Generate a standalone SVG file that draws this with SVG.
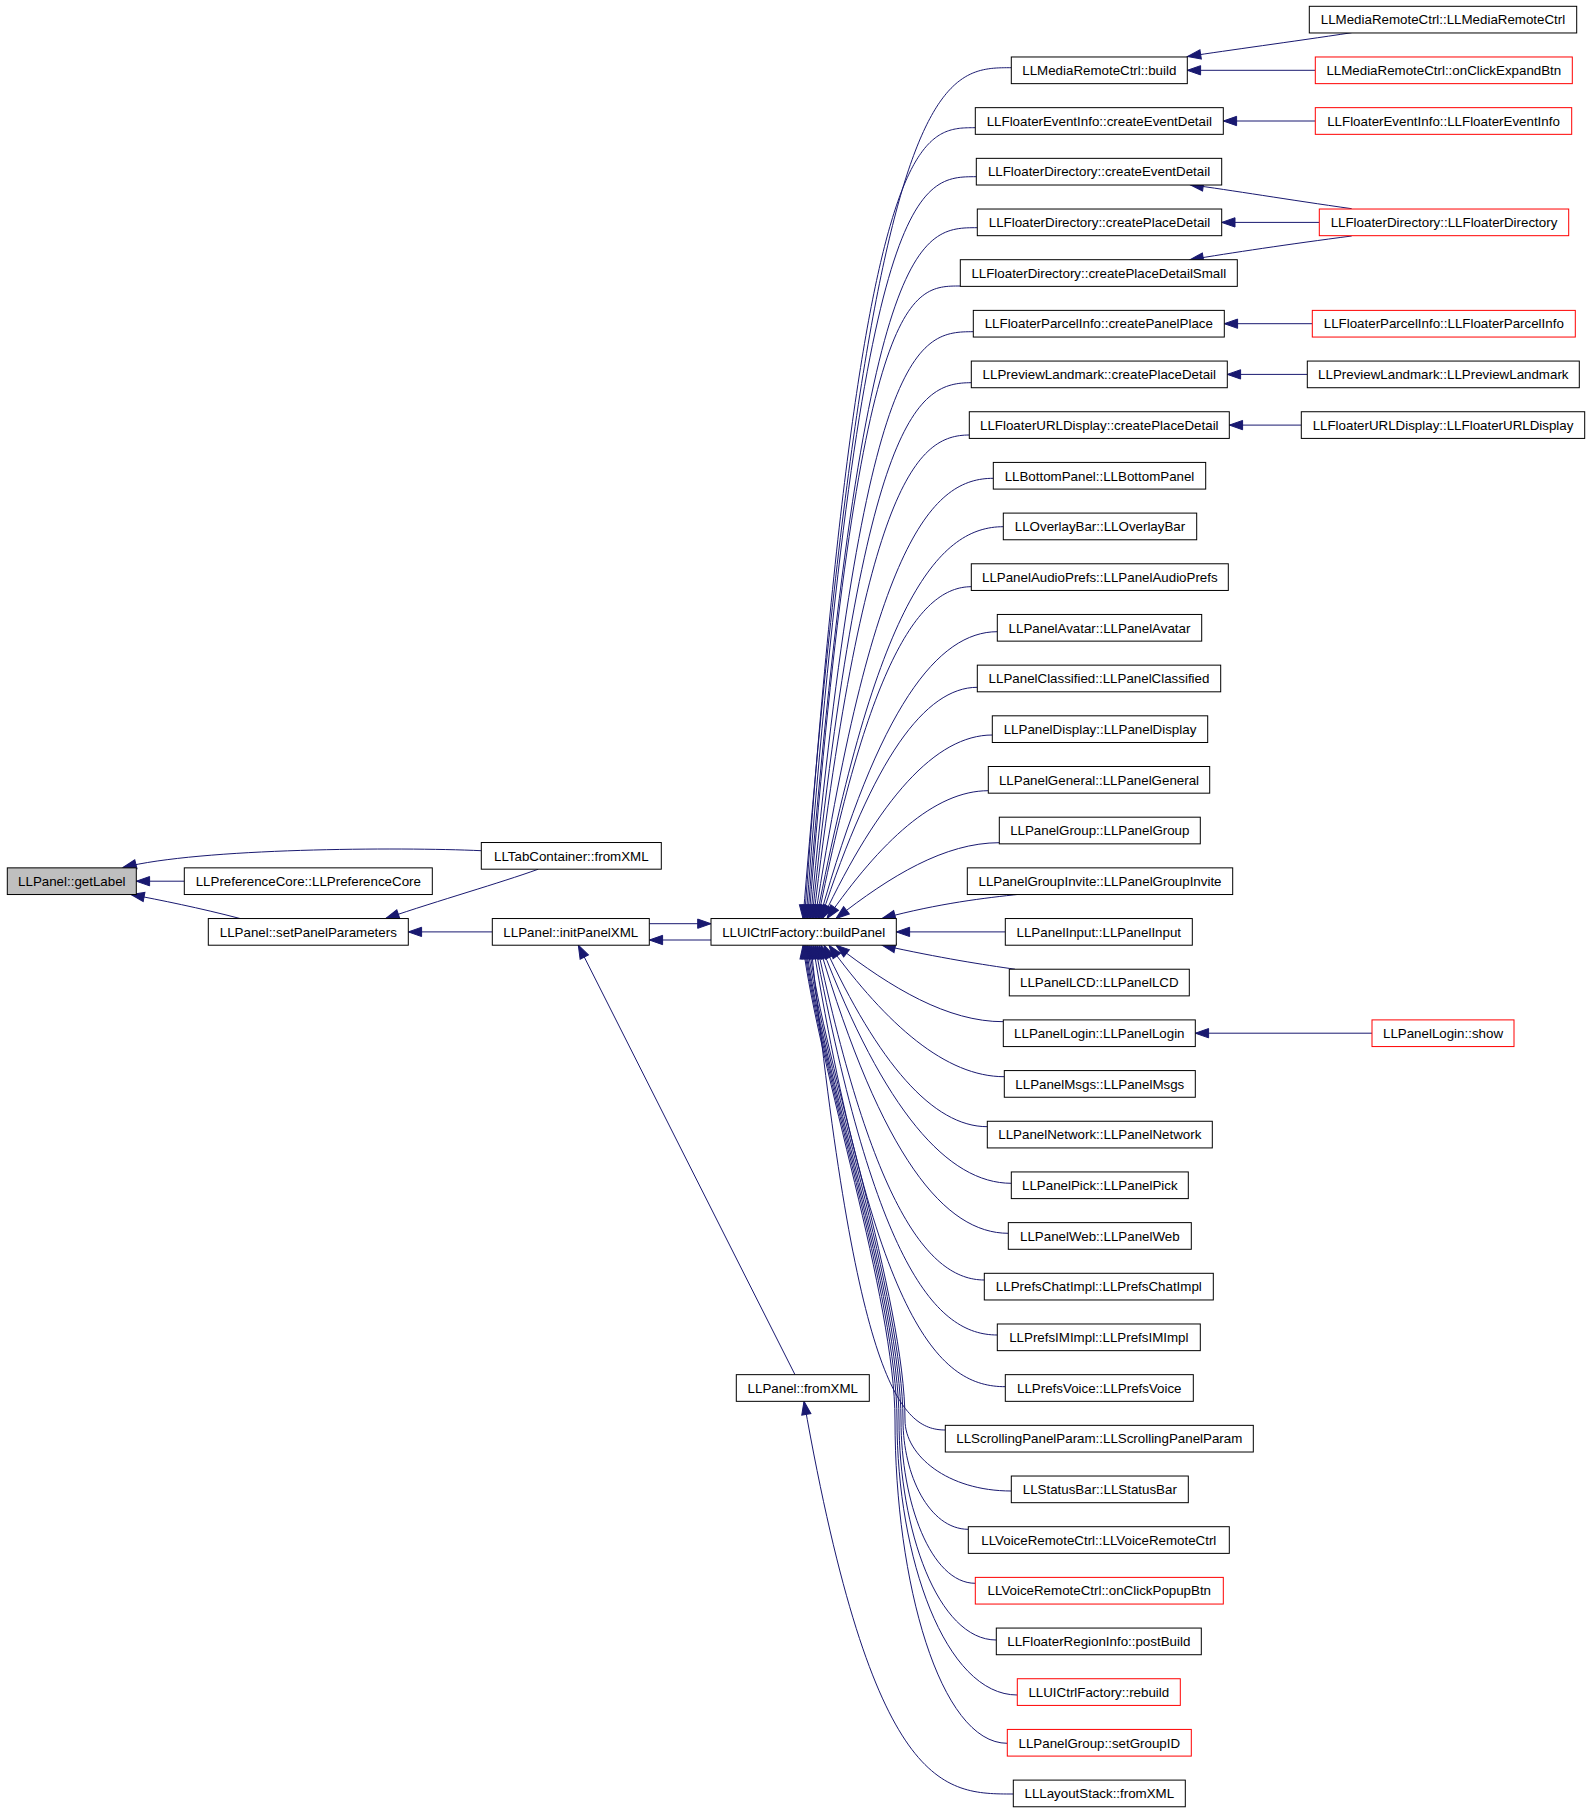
<svg xmlns="http://www.w3.org/2000/svg" width="1589" height="1811" viewBox="0 0 1589 1811">
<style>
.n rect{fill:#fff;stroke:#000;stroke-width:1}
.r rect{fill:#fff;stroke:#f00;stroke-width:1}
.g rect{fill:#bfbfbf;stroke:#000;stroke-width:1}
text{font-family:"Liberation Sans",Arial,Helvetica,sans-serif;font-size:13.33px;text-anchor:middle;fill:#000}
#edges path{fill:none;stroke:#191970;stroke-width:1;marker-end:url(#a)}
</style>
<defs>
<marker id="a" viewBox="0 0 14 10" markerUnits="userSpaceOnUse" markerWidth="14" markerHeight="10" refX="13.3" refY="4.65" orient="auto" overflow="visible">
<path d="M0,0 L13.3,4.65 L0,9.3 Z" fill="#191970" stroke="#191970" stroke-width="1"/>
</marker>
</defs>
<rect width="1589" height="1811" fill="#fff"/>
<g id="edges">
<path d="M481.3,850.7 C400,847 200,848 123,867.5"/>
<path d="M184.3,881.2 L136.3,881.2"/>
<path d="M240,918.5 C200,908 160,900 131,894.5"/>
<path d="M538.3,869.2 C500,883 440,900 385.7,918.5"/>
<path d="M492.3,931.9 L408.3,931.9"/>
<path d="M649.3,923.7 L711,923.7"/>
<path d="M711,940 L649.3,940"/>
<path d="M795,1374.7 L578.3,945.2"/>
<path d="M1013.3,1794 C943.5,1794 873.5,1794 804,1401.3"/>
<path d="M1351.7,32.7 C1290,42 1230,50 1187.5,56.5"/>
<path d="M1315.3,70.3 L1187.3,70.3"/>
<path d="M1315.3,121 L1223.3,121"/>
<path d="M1351.7,208.7 C1290,200 1230,190 1190,184.7"/>
<path d="M1319.3,222.4 L1221.7,222.4"/>
<path d="M1351.7,236 C1290,244 1230,253 1190,259.7"/>
<path d="M1312.3,323.7 L1224.3,323.7"/>
<path d="M1307.3,374.4 L1227.3,374.4"/>
<path d="M1301.3,425.1 L1229.3,425.1"/>
<path d="M1372,1033.2 L1195.3,1033.2"/>
<path d="M1011.3,67.7 C941.9,67.7 872.4,67.7 803,918.5"/>
<path d="M975.3,127.7 C918.4,127.7 861.4,127.7 804.5,918.5"/>
<path d="M976.3,176.7 C919.5,176.7 862.8,176.7 806,918.5"/>
<path d="M977.3,227.7 C920.7,227.7 864.1,227.7 807.5,918.5"/>
<path d="M960.3,286 C909.9,286 859.4,286 809,918.5"/>
<path d="M973.3,331.7 C919,331.7 864.8,338.2 810.5,918.5"/>
<path d="M971.3,382.7 C918.2,382.7 865.1,411.1 812,918.5"/>
<path d="M969.3,435 C917.4,435 865.4,481.9 813.5,918.5"/>
<path d="M993.3,478.3 C933.9,478.3 874.4,536.8 815,918.5"/>
<path d="M1003.3,526.7 C941,526.7 878.8,594.5 816.5,918.5"/>
<path d="M971.3,586.7 C920.2,586.7 869.1,660.7 818,918.5"/>
<path d="M997.3,631.7 C938,631.7 878.8,706.6 819.5,918.5"/>
<path d="M977.3,687.3 C925.2,687.3 873.1,758.3 821,918.5"/>
<path d="M992.3,735 C935.7,735 879.1,798.7 822.5,918.5"/>
<path d="M988.3,790.7 C934.5,790.7 880.8,841.1 827,918.5"/>
<path d="M999.3,842.7 C944.9,842.7 890.4,875.8 836,918.5"/>
<path d="M1020,894.2 C985,898 940,903 882,918.5"/>
<path d="M1005.3,931.9 L896.3,931.9"/>
<path d="M1015,969.2 C985,965 940,958 882,945.2"/>
<path d="M1003.3,1021.7 C947.5,1021.7 891.8,988.3 836,945.2"/>
<path d="M1004.3,1076.7 C945.9,1076.7 887.4,1025.4 829,945.2"/>
<path d="M987.3,1126.7 C932.9,1126.7 878.4,1063.4 824,945.2"/>
<path d="M1011.3,1183.3 C947.9,1183.3 884.4,1111.4 821,945.2"/>
<path d="M1008.3,1233.3 C945.2,1233.3 882.1,1158.4 819,945.2"/>
<path d="M984.3,1280 C928.5,1280 872.8,1206 817,945.2"/>
<path d="M997.3,1335 C936.5,1335 875.8,1266.8 815,945.2"/>
<path d="M1005.3,1386.7 C941.2,1386.7 877.1,1328.4 813,945.2"/>
<path d="M945.3,1430 C900.5,1430 855.8,1383.5 811,945.2"/>
<path d="M1011.3,1491 C947.5,1491 905,1455.5 905,1420 C905,1300 824,1065 809,945.2"/>
<path d="M968.3,1529.3 C929.1,1529.3 903,1474.7 903,1420 C903,1300 822.5,1065 807.5,945.2"/>
<path d="M975.3,1583.3 C930.7,1583.3 901,1501.7 901,1420 C901,1300 821,1065 806,945.2"/>
<path d="M996.3,1640 C937.9,1640 899,1530 899,1420 C899,1300 820,1065 805,945.2"/>
<path d="M1017.3,1695 C945.1,1695 897,1557.5 897,1420 C897,1300 819,1065 804,945.2"/>
<path d="M1007.3,1743.3 C939.9,1743.3 895,1581.7 895,1420 C895,1300 818,1065 803,945.2"/>
</g>
<g id="n_getLabel" class="g"><rect x="7.3" y="867.86" width="129" height="26.67"/><text x="71.8" y="885.9">LLPanel::getLabel</text></g>
<g id="n_prefCore" class="n"><rect x="184.3" y="867.86" width="248" height="26.67"/><text x="308.3" y="885.9">LLPreferenceCore::LLPreferenceCore</text></g>
<g id="n_setPanelParameters" class="n"><rect x="208.3" y="918.54" width="200" height="26.67"/><text x="308.3" y="936.6">LLPanel::setPanelParameters</text></g>
<g id="n_tabFromXML" class="n"><rect x="481.3" y="842.52" width="180" height="26.67"/><text x="571.3" y="860.6">LLTabContainer::fromXML</text></g>
<g id="n_initPanelXML" class="n"><rect x="492.3" y="918.54" width="157" height="26.67"/><text x="570.8" y="936.6">LLPanel::initPanelXML</text></g>
<g id="n_buildPanel" class="n"><rect x="711" y="918.54" width="185.3" height="26.67"/><text x="803.7" y="936.6">LLUICtrlFactory::buildPanel</text></g>
<g id="n_panelFromXML" class="n"><rect x="736.3" y="1374.66" width="133" height="26.67"/><text x="802.8" y="1392.7">LLPanel::fromXML</text></g>
<g id="n_m0" class="n"><rect x="1011.3" y="56.98" width="176" height="26.67"/><text x="1099.3" y="75">LLMediaRemoteCtrl::build</text></g>
<g id="n_m1" class="n"><rect x="975.3" y="107.66" width="248" height="26.67"/><text x="1099.3" y="125.7">LLFloaterEventInfo::createEventDetail</text></g>
<g id="n_m2" class="n"><rect x="976.3" y="158.34" width="245.4" height="26.67"/><text x="1099" y="176.4">LLFloaterDirectory::createEventDetail</text></g>
<g id="n_m3" class="n"><rect x="977.3" y="209.02" width="244.4" height="26.67"/><text x="1099.5" y="227.1">LLFloaterDirectory::createPlaceDetail</text></g>
<g id="n_m4" class="n"><rect x="960.3" y="259.7" width="277" height="26.67"/><text x="1098.8" y="277.7">LLFloaterDirectory::createPlaceDetailSmall</text></g>
<g id="n_m5" class="n"><rect x="973.3" y="310.38" width="251" height="26.67"/><text x="1098.8" y="328.4">LLFloaterParcelInfo::createPanelPlace</text></g>
<g id="n_m6" class="n"><rect x="971.3" y="361.06" width="256" height="26.67"/><text x="1099.3" y="379.1">LLPreviewLandmark::createPlaceDetail</text></g>
<g id="n_m7" class="n"><rect x="969.3" y="411.74" width="260" height="26.67"/><text x="1099.3" y="429.8">LLFloaterURLDisplay::createPlaceDetail</text></g>
<g id="n_m8" class="n"><rect x="993.3" y="462.42" width="212.4" height="26.67"/><text x="1099.5" y="480.5">LLBottomPanel::LLBottomPanel</text></g>
<g id="n_m9" class="n"><rect x="1003.3" y="513.1" width="193.4" height="26.67"/><text x="1100" y="531.1">LLOverlayBar::LLOverlayBar</text></g>
<g id="n_m10" class="n"><rect x="971.3" y="563.78" width="257" height="26.67"/><text x="1099.8" y="581.8">LLPanelAudioPrefs::LLPanelAudioPrefs</text></g>
<g id="n_m11" class="n"><rect x="997.3" y="614.46" width="204.4" height="26.67"/><text x="1099.5" y="632.5">LLPanelAvatar::LLPanelAvatar</text></g>
<g id="n_m12" class="n"><rect x="977.3" y="665.14" width="243.4" height="26.67"/><text x="1099" y="683.2">LLPanelClassified::LLPanelClassified</text></g>
<g id="n_m13" class="n"><rect x="992.3" y="715.82" width="215.4" height="26.67"/><text x="1100" y="733.9">LLPanelDisplay::LLPanelDisplay</text></g>
<g id="n_m14" class="n"><rect x="988.3" y="766.5" width="221.4" height="26.67"/><text x="1099" y="784.5">LLPanelGeneral::LLPanelGeneral</text></g>
<g id="n_m15" class="n"><rect x="999.3" y="817.18" width="201" height="26.67"/><text x="1099.8" y="835.2">LLPanelGroup::LLPanelGroup</text></g>
<g id="n_m16" class="n"><rect x="967.3" y="867.86" width="265.4" height="26.67"/><text x="1100" y="885.9">LLPanelGroupInvite::LLPanelGroupInvite</text></g>
<g id="n_m17" class="n"><rect x="1005.3" y="918.54" width="187" height="26.67"/><text x="1098.8" y="936.6">LLPanelInput::LLPanelInput</text></g>
<g id="n_m18" class="n"><rect x="1009.3" y="969.22" width="180" height="26.67"/><text x="1099.3" y="987.3">LLPanelLCD::LLPanelLCD</text></g>
<g id="n_m19" class="n"><rect x="1003.3" y="1019.9" width="192" height="26.67"/><text x="1099.3" y="1037.9">LLPanelLogin::LLPanelLogin</text></g>
<g id="n_m20" class="n"><rect x="1004.3" y="1070.58" width="191" height="26.67"/><text x="1099.8" y="1088.6">LLPanelMsgs::LLPanelMsgs</text></g>
<g id="n_m21" class="n"><rect x="987.3" y="1121.26" width="225" height="26.67"/><text x="1099.8" y="1139.3">LLPanelNetwork::LLPanelNetwork</text></g>
<g id="n_m22" class="n"><rect x="1011.3" y="1171.94" width="177" height="26.67"/><text x="1099.8" y="1190">LLPanelPick::LLPanelPick</text></g>
<g id="n_m23" class="n"><rect x="1008.3" y="1222.62" width="183" height="26.67"/><text x="1099.8" y="1240.7">LLPanelWeb::LLPanelWeb</text></g>
<g id="n_m24" class="n"><rect x="984.3" y="1273.3" width="229" height="26.67"/><text x="1098.8" y="1291.3">LLPrefsChatImpl::LLPrefsChatImpl</text></g>
<g id="n_m25" class="n"><rect x="997.3" y="1323.98" width="203" height="26.67"/><text x="1098.8" y="1342">LLPrefsIMImpl::LLPrefsIMImpl</text></g>
<g id="n_m26" class="n"><rect x="1005.3" y="1374.66" width="188" height="26.67"/><text x="1099.3" y="1392.7">LLPrefsVoice::LLPrefsVoice</text></g>
<g id="n_m27" class="n"><rect x="945.3" y="1425.34" width="308" height="26.67"/><text x="1099.3" y="1443.4">LLScrollingPanelParam::LLScrollingPanelParam</text></g>
<g id="n_m28" class="n"><rect x="1011.3" y="1476.02" width="177" height="26.67"/><text x="1099.8" y="1494.1">LLStatusBar::LLStatusBar</text></g>
<g id="n_m29" class="n"><rect x="968.3" y="1526.7" width="261" height="26.67"/><text x="1098.8" y="1544.7">LLVoiceRemoteCtrl::LLVoiceRemoteCtrl</text></g>
<g id="n_m30" class="r"><rect x="975.3" y="1577.38" width="248" height="26.67"/><text x="1099.3" y="1595.4">LLVoiceRemoteCtrl::onClickPopupBtn</text></g>
<g id="n_m31" class="n"><rect x="996.3" y="1628.06" width="205" height="26.67"/><text x="1098.8" y="1646.1">LLFloaterRegionInfo::postBuild</text></g>
<g id="n_m32" class="r"><rect x="1017.3" y="1678.74" width="163" height="26.67"/><text x="1098.8" y="1696.8">LLUICtrlFactory::rebuild</text></g>
<g id="n_m33" class="r"><rect x="1007.3" y="1729.42" width="184" height="26.67"/><text x="1099.3" y="1747.5">LLPanelGroup::setGroupID</text></g>
<g id="n_m34" class="n"><rect x="1013.3" y="1780.1" width="172" height="26.67"/><text x="1099.3" y="1798.1">LLLayoutStack::fromXML</text></g>
<g id="n_r0" class="n"><rect x="1309.3" y="6.3" width="267.4" height="26.67"/><text x="1443" y="24.3">LLMediaRemoteCtrl::LLMediaRemoteCtrl</text></g>
<g id="n_r1" class="r"><rect x="1315.3" y="56.98" width="257" height="26.67"/><text x="1443.8" y="75">LLMediaRemoteCtrl::onClickExpandBtn</text></g>
<g id="n_r2" class="r"><rect x="1315.3" y="107.66" width="256.4" height="26.67"/><text x="1443.5" y="125.7">LLFloaterEventInfo::LLFloaterEventInfo</text></g>
<g id="n_r3" class="r"><rect x="1319.3" y="209.02" width="249.4" height="26.67"/><text x="1444" y="227.1">LLFloaterDirectory::LLFloaterDirectory</text></g>
<g id="n_r4" class="r"><rect x="1312.3" y="310.38" width="263" height="26.67"/><text x="1443.8" y="328.4">LLFloaterParcelInfo::LLFloaterParcelInfo</text></g>
<g id="n_r5" class="n"><rect x="1307.3" y="361.06" width="272" height="26.67"/><text x="1443.3" y="379.1">LLPreviewLandmark::LLPreviewLandmark</text></g>
<g id="n_r6" class="n"><rect x="1301.3" y="411.74" width="283.4" height="26.67"/><text x="1443" y="429.8">LLFloaterURLDisplay::LLFloaterURLDisplay</text></g>
<g id="n_r7" class="r"><rect x="1372" y="1019.9" width="142" height="26.67"/><text x="1443" y="1037.9">LLPanelLogin::show</text></g>
</svg>
